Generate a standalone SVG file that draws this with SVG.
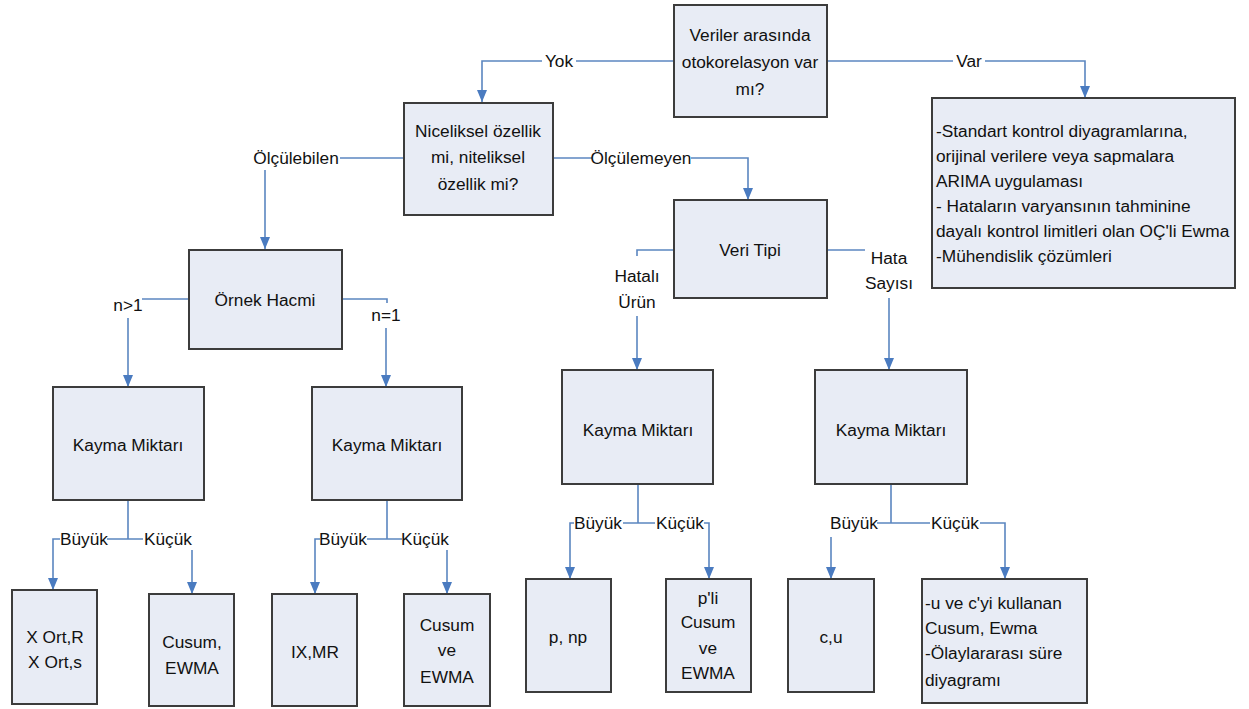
<svg xmlns="http://www.w3.org/2000/svg" width="1249" height="709" viewBox="0 0 1249 709">
<defs>
<style>
.box{fill:#e8ecf5;stroke:#3c3c3c;stroke-width:2}
.t{font-family:"Liberation Sans",Arial,sans-serif;font-size:17.3px;fill:#111;text-anchor:middle}
.tl{font-family:"Liberation Sans",Arial,sans-serif;font-size:17.3px;fill:#111;text-anchor:start}
.c{fill:none;stroke:#5b86c0;stroke-width:1.6}
.ca{fill:none;stroke:#5b86c0;stroke-width:1.6;marker-end:url(#ah)}
</style>
<marker id="ah" viewBox="0 0 12 10" refX="12" refY="5" markerWidth="12" markerHeight="10" markerUnits="userSpaceOnUse" orient="auto">
<path d="M0,0 L12,5 L0,10 z" fill="#4a7bc0"/>
</marker>
</defs>
<rect width="1249" height="709" fill="#fff"/>
<g id="connectors">
<path class="c" d="M674,61 H576"/>
<path class="ca" d="M542,61 H482 V102"/>
<path class="c" d="M827,61 H953"/>
<path class="ca" d="M985,61 H1085 V98"/>
<path class="c" d="M404,158 H340"/>
<path class="ca" d="M265,170 V249"/>
<path class="c" d="M553,158 H592"/>
<path class="ca" d="M691,158 H748 V200"/>
<path class="c" d="M189,299 H142"/>
<path class="ca" d="M128,318 V387"/>
<path class="c" d="M342,299 H387 V303"/>
<path class="ca" d="M386,328 V387"/>
<path class="c" d="M674,250 H637 V256"/>
<path class="ca" d="M637,316 V370"/>
<path class="c" d="M827,250 H865"/>
<path class="ca" d="M889,298 V370"/>
<path class="c" d="M128,500 V539 M107,539 H143"/>
<path class="ca" d="M60,539 H53 V590"/>
<path class="ca" d="M192,550 V594"/>
<path class="c" d="M387,500 V539 M367,539 H402"/>
<path class="ca" d="M320,539 H315 V594"/>
<path class="ca" d="M447,550 V594"/>
<path class="c" d="M638,484 V523 M623,523 H655"/>
<path class="ca" d="M574,523 H570 V579"/>
<path class="ca" d="M704,523 H709 V579"/>
<path class="c" d="M891,484 V523 M877,523 H930"/>
<path class="ca" d="M831,537 V579"/>
<path class="ca" d="M980,523 H1005 V579"/>
</g>
<g id="edge-labels">
<text class="t" x="559" y="67">Yok</text>
<text class="t" x="969" y="67">Var</text>
<text class="t" x="296" y="164">Ölçülebilen</text>
<text class="t" x="641" y="164">Ölçülemeyen</text>
<text class="t" x="128" y="311">n&gt;1</text>
<text class="t" x="386" y="321">n=1</text>
<text class="t" x="637" y="282">Hatalı</text>
<text class="t" x="637" y="308">Ürün</text>
<text class="t" x="889" y="264">Hata</text>
<text class="t" x="889" y="289">Sayısı</text>
<text class="t" x="84" y="545">Büyük</text>
<text class="t" x="168" y="545">Küçük</text>
<text class="t" x="343" y="545">Büyük</text>
<text class="t" x="425" y="545">Küçük</text>
<text class="t" x="598" y="529">Büyük</text>
<text class="t" x="680" y="529">Küçük</text>
<text class="t" x="854" y="529">Büyük</text>
<text class="t" x="955" y="529">Küçük</text>
</g>
<g id="n-otokorelasyon">
<rect class="box" x="674" y="5" width="153" height="112"/>
<text class="t" x="750" y="41">Veriler arasında</text>
<text class="t" x="750" y="68">otokorelasyon var</text>
<text class="t" x="750" y="95">mı?</text>
</g>
<g id="n-arima">
<rect class="box" x="932" y="98" width="303" height="190"/>
<text class="tl" x="936" y="137">-Standart kontrol diyagramlarına,</text>
<text class="tl" x="936" y="162">orijinal verilere veya sapmalara</text>
<text class="tl" x="936" y="187">ARIMA uygulaması</text>
<text class="tl" x="936" y="212">- Hataların varyansının tahminine</text>
<text class="tl" x="936" y="237">dayalı kontrol limitleri olan OÇ'li Ewma</text>
<text class="tl" x="936" y="262">-Mühendislik çözümleri</text>
</g>
<g id="n-niceliksel">
<rect class="box" x="404" y="103" width="149" height="112"/>
<text class="t" x="478" y="137">Niceliksel özellik</text>
<text class="t" x="478" y="163">mi, niteliksel</text>
<text class="t" x="478" y="190">özellik mi?</text>
</g>
<g id="n-ornek">
<rect class="box" x="189" y="250" width="153" height="99"/>
<text class="t" x="265" y="306">Örnek Hacmi</text>
</g>
<g id="n-veritipi">
<rect class="box" x="674" y="200" width="153" height="98"/>
<text class="t" x="750" y="256">Veri Tipi</text>
</g>
<g id="n-kayma1">
<rect class="box" x="53" y="387" width="151" height="113"/>
<text class="t" x="128" y="451">Kayma Miktarı</text>
</g>
<g id="n-kayma2">
<rect class="box" x="312" y="387" width="150" height="113"/>
<text class="t" x="387" y="451">Kayma Miktarı</text>
</g>
<g id="n-kayma3">
<rect class="box" x="562" y="370" width="151" height="114"/>
<text class="t" x="638" y="436">Kayma Miktarı</text>
</g>
<g id="n-kayma4">
<rect class="box" x="815" y="370" width="152" height="114"/>
<text class="t" x="891" y="436">Kayma Miktarı</text>
</g>
<g id="n-xort">
<rect class="box" x="12" y="590" width="85" height="114"/>
<text class="t" x="55" y="643">X Ort,R</text>
<text class="t" x="55" y="668">X Ort,s</text>
</g>
<g id="n-cusum1">
<rect class="box" x="149" y="594" width="85" height="112"/>
<text class="t" x="192" y="648">Cusum,</text>
<text class="t" x="192" y="674">EWMA</text>
</g>
<g id="n-ixmr">
<rect class="box" x="272" y="594" width="85" height="112"/>
<text class="t" x="315" y="658">IX,MR</text>
</g>
<g id="n-cusum2">
<rect class="box" x="404" y="594" width="86" height="112"/>
<text class="t" x="447" y="631">Cusum</text>
<text class="t" x="447" y="656">ve</text>
<text class="t" x="447" y="683">EWMA</text>
</g>
<g id="n-pnp">
<rect class="box" x="526" y="579" width="85" height="113"/>
<text class="t" x="568" y="643">p, np</text>
</g>
<g id="n-pli">
<rect class="box" x="666" y="579" width="85" height="113"/>
<text class="t" x="708" y="604">p'li</text>
<text class="t" x="708" y="628">Cusum</text>
<text class="t" x="708" y="654">ve</text>
<text class="t" x="708" y="679">EWMA</text>
</g>
<g id="n-cu">
<rect class="box" x="788" y="579" width="86" height="113"/>
<text class="t" x="831" y="643">c,u</text>
</g>
<g id="n-ucyi">
<rect class="box" x="922" y="579" width="165" height="124"/>
<text class="tl" x="925" y="609">-u ve c'yi kullanan</text>
<text class="tl" x="925" y="634">Cusum, Ewma</text>
<text class="tl" x="925" y="659">-Ölaylararası süre</text>
<text class="tl" x="925" y="686">diyagramı</text>
</g>
</svg>
